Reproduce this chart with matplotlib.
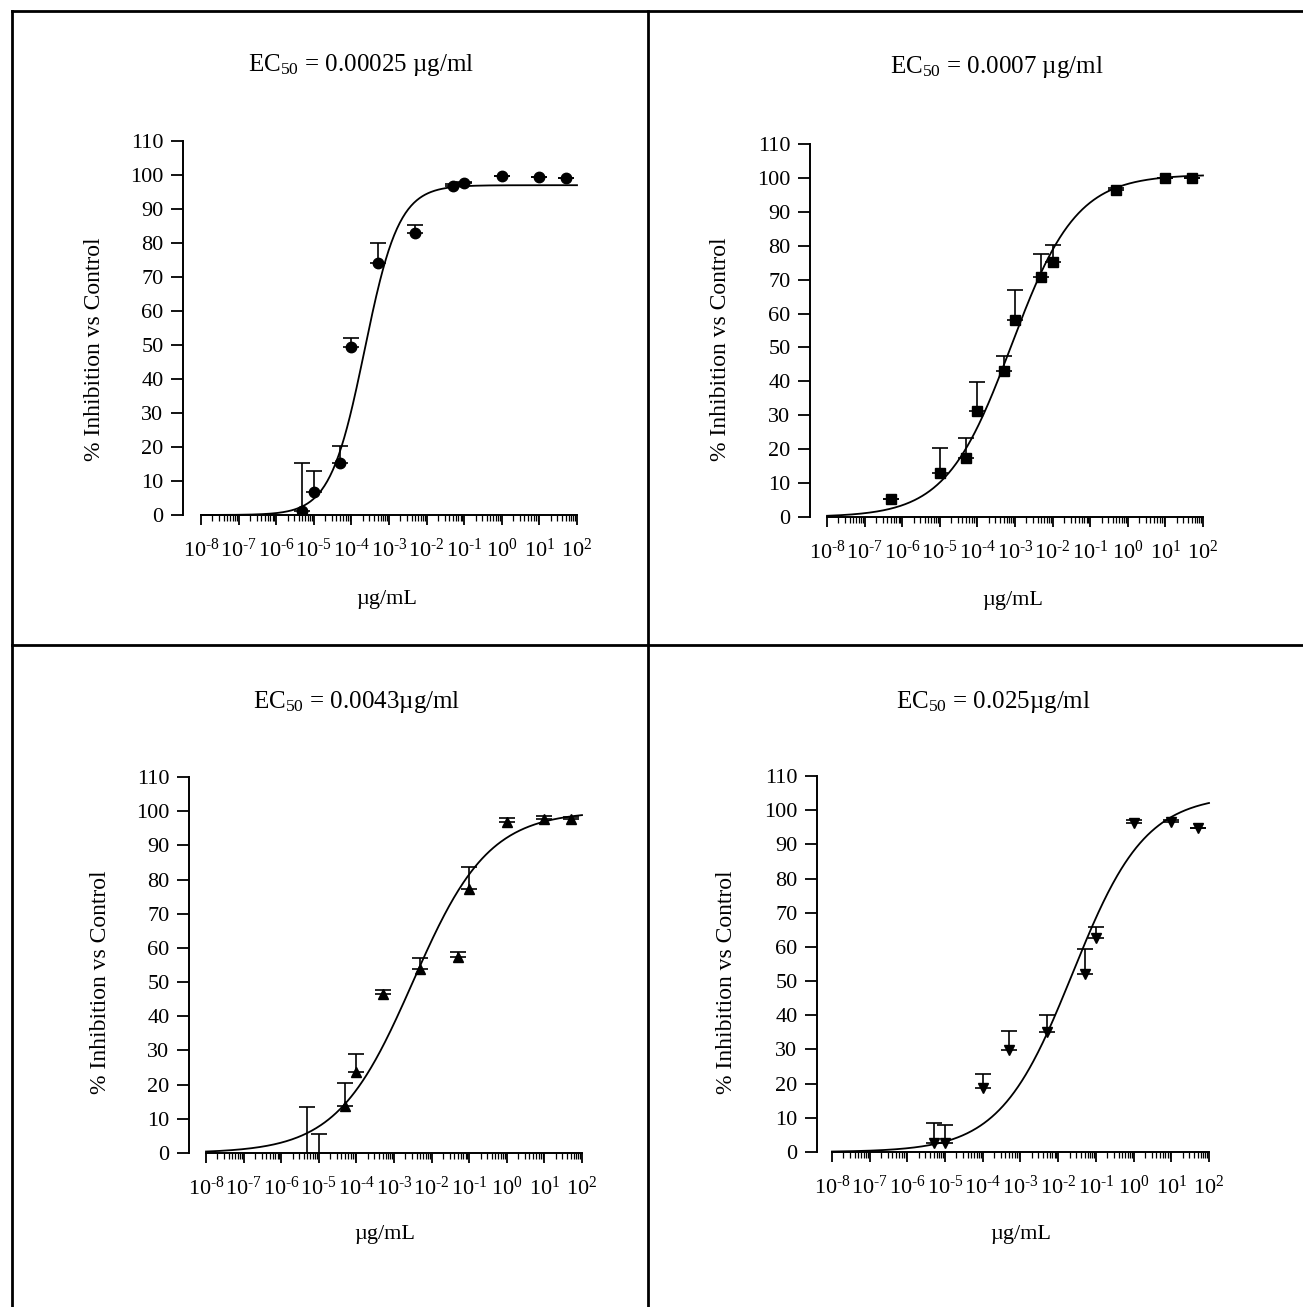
import numpy as np
import matplotlib
matplotlib.use("Agg")
import matplotlib.pyplot as plt
from matplotlib.ticker import FixedLocator, LogLocator, FuncFormatter, NullFormatter
from matplotlib.lines import Line2D

plt.rcParams['font.family'] = ['Liberation Serif', 'DejaVu Serif']
plt.rcParams['mathtext.fontset'] = 'custom'
plt.rcParams['mathtext.rm'] = 'Liberation Serif'
plt.rcParams['mathtext.it'] = 'Liberation Serif:italic'
plt.rcParams['mathtext.bf'] = 'Liberation Serif:bold'

# ---------------- data ----------------
titles = ["EC$_{50}$ = 0.00025 µg/ml", "EC$_{50}$ = 0.0007 µg/ml",
          "EC$_{50}$ = 0.0043µg/ml", "EC$_{50}$ = 0.025µg/ml"]
x_label = "µg/mL"
y_label = "% Inhibition vs Control"
y_ticks = list(range(0, 111, 10))
x_decades = list(range(-8, 3))

p1_x = [5e-6, 1e-5, 5e-5, 1e-4, 5e-4, 5e-3, 5e-2, 1e-1, 1, 10, 50]
p1_y = [1.3, 6.8, 15.2, 49.5, 74.2, 82.8, 96.8, 97.6, 99.6, 99.5, 99.1]
p1_err = [14.1, 6.1, 5.2, 2.5, 5.9, 2.6, 0.7, 0.4, 0.0, 0.0, 0.0]

p2_x = [5e-7, 1e-5, 5e-5, 1e-4, 5e-4, 1e-3, 5e-3, 1e-2, 0.5, 10, 50]
p2_y = [5.3, 12.9, 17.5, 31.2, 43.0, 58.1, 70.9, 75.2, 96.3, 99.9, 99.9]
p2_err = [0.0, 7.4, 5.9, 8.7, 4.5, 8.9, 6.6, 4.9, 0.8, 0.0, 0.0]

p3_x = [5e-6, 1e-5, 5e-5, 1e-4, 5e-4, 5e-3, 5e-2, 1e-1, 1, 10, 50]
p3_y = [-6.0, -4.0, 13.8, 23.6, 46.5, 53.7, 57.4, 77.2, 96.8, 97.6, 97.6]
p3_err = [19.5, 9.6, 6.6, 5.4, 1.2, 3.4, 1.4, 6.6, 1.1, 0.9, 0.7]

p4_x = [5e-6, 1e-5, 1e-4, 5e-4, 5e-3, 5e-2, 1e-1, 1, 10, 50]
p4_y = [2.5, 2.5, 18.6, 29.7, 35.2, 52.1, 62.5, 96.2, 96.5, 94.9]
p4_err = [6.1, 5.4, 4.2, 5.8, 4.9, 7.2, 3.4, 0.8, 0.5, 0.0]

# fitted four-parameter logistic curves: bottom, top, logEC50, hill slope
fit_bottom = [0.0, 0.0, 0.0, 0.0]
fit_top = [97.0, 101.0, 100.0, 104.5]
fit_logec50 = [-3.65, -3.10, -2.50, -1.62]
fit_hill = [0.95, 0.50, 0.43, 0.45]

markers = ['o', 's', '^', 'v']

# ---------------- layout ----------------
W, H = 1303, 1307
fig = plt.figure(figsize=(W / 100, H / 100), dpi=100)

# axes boxes in pixels: left, right, top, bottom, y-spine offset px
boxes = [(201, 577, 141, 515, 18), (827, 1203, 144, 517, 17),
         (206, 582, 777, 1153, 17), (832, 1209, 776, 1152, 15)]
title_pos = [(361, 65), (997, 67), (357, 702), (993, 702)]
xlabel_pos = [(387, 599), (1013, 601), (385, 1234), (1021, 1234)]
ylabel_pos = [(94, 349), (721, 349), (100, 982), (726, 982)]

def fx(px):
    return px / W

def fy(py):
    return 1 - py / H

data = [(p1_x, p1_y, p1_err), (p2_x, p2_y, p2_err),
        (p3_x, p3_y, p3_err), (p4_x, p4_y, p4_err)]

def fmt(v, pos):
    e = int(round(np.log10(v)))
    if e < 0:
        return r"$10^{\text{-}%d}$" % (-e)
    return r"$10^{%d}$" % e

for i, (l, r, t, b, off) in enumerate(boxes):
    ax = fig.add_axes([fx(l), fy(b), (r - l) / W, (b - t) / H])
    ax.set_xscale('log')
    ax.set_xlim(1e-8, 1e2)
    ax.set_ylim(0, 110)
    for s in ['top', 'right']:
        ax.spines[s].set_visible(False)
    ax.spines['left'].set_position(('outward', off * 0.72))
    ax.spines['left'].set_linewidth(1.4)
    ax.spines['bottom'].set_linewidth(1.4)
    ax.set_yticks(y_ticks)
    ax.tick_params(axis='y', direction='out', length=9, width=1.3, labelsize=16, pad=5)
    ax.xaxis.set_major_locator(FixedLocator([10.0 ** d for d in x_decades]))
    ax.xaxis.set_major_formatter(FuncFormatter(fmt))
    ax.xaxis.set_minor_locator(LogLocator(base=10, subs=np.arange(2, 10), numticks=100))
    ax.xaxis.set_minor_formatter(NullFormatter())
    ax.tick_params(axis='x', which='major', direction='out', length=7, width=1.3,
                   labelsize=16, pad=10)
    ax.tick_params(axis='x', which='minor', direction='out', length=4, width=0.9)

    xs, ys, es = data[i]
    # fitted curve
    xc = np.logspace(-8, 2, 400)
    yc = fit_bottom[i] + (fit_top[i] - fit_bottom[i]) / (
        1 + 10 ** ((fit_logec50[i] - np.log10(xc)) * fit_hill[i]))
    ax.plot(xc, yc, color='black', lw=1.3, clip_on=False)
    ax.errorbar(xs, ys, yerr=[np.zeros(len(es)), es], fmt=markers[i], color='black',
                ms=7.5 if markers[i] != 's' else 6.5, ecolor='black', elinewidth=1.2,
                capsize=5.5, capthick=1.2, zorder=3)

    fig.text(fx(title_pos[i][0]), fy(title_pos[i][1]), titles[i], ha='center',
             va='center', fontsize=18)
    fig.text(fx(xlabel_pos[i][0]), fy(xlabel_pos[i][1]), x_label, ha='center',
             va='center', fontsize=16)
    fig.text(fx(ylabel_pos[i][0]), fy(ylabel_pos[i][1]), y_label, ha='center',
             va='center', fontsize=17, rotation=90)

# panel frame lines
lw_frame = 2.0
fig.add_artist(Line2D([fx(12), 1], [fy(11), fy(11)], color='black', lw=lw_frame))
fig.add_artist(Line2D([fx(12), fx(12)], [fy(11), 0], color='black', lw=lw_frame))
fig.add_artist(Line2D([fx(648), fx(648)], [fy(11), 0], color='black', lw=lw_frame))
fig.add_artist(Line2D([fx(12), 1], [fy(645), fy(645)], color='black', lw=lw_frame))

fig.savefig("out.png", dpi=100)
